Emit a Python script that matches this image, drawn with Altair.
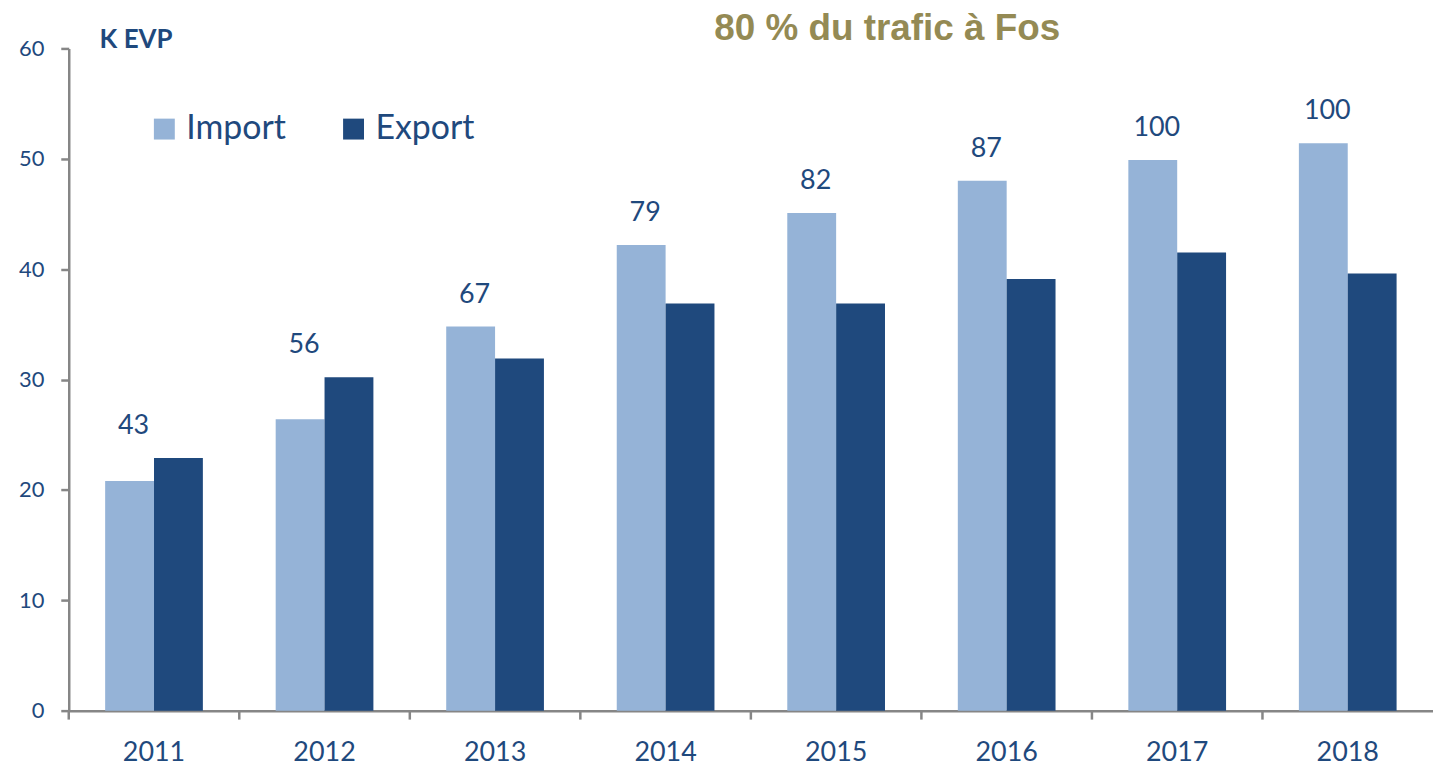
import altair as alt
import pandas as pd

years = ["2011", "2012", "2013", "2014", "2015", "2016", "2017", "2018"]
import_vals = [20.8, 26.4, 34.8, 42.2, 45.1, 48.0, 49.9, 51.4]
export_vals = [22.9, 30.2, 31.9, 36.9, 36.9, 39.1, 41.5, 39.6]
totals = [43, 56, 67, 79, 82, 87, 100, 100]
series = ["Import", "Export"]
colors = ["#95b3d7", "#1f497d"]
title_text = "80 % du trafic à Fos"
unit_text = "K EVP"

TXT = "#1f497d"
AX = "#868686"
W, H = 1370, 665
PIN = 0.427

rows = []
for y, i, e in zip(years, import_vals, export_vals):
    rows.append({"year": y, "series": "Import", "value": i})
    rows.append({"year": y, "series": "Export", "value": e})
bars_df = pd.DataFrame(rows)

lab_df = pd.DataFrame({
    "year": years,
    "series": ["Import"] * len(years),
    "total": totals,
    "top": [max(i, e) for i, e in zip(import_vals, export_vals)],
})

xscale = alt.Scale(paddingInner=PIN, paddingOuter=PIN / 2)
offscale = alt.Scale(domain=series, paddingInner=0, paddingOuter=0)

bars = alt.Chart(bars_df).mark_bar().encode(
    x=alt.X("year:N", scale=xscale, sort=years,
            axis=alt.Axis(title=None, labelFont="Lato", labelFontSize=27, labelColor=TXT,
                          ticks=False, domainColor=AX, domainWidth=2.5, labelPadding=29,
                          labelAngle=0)),
    xOffset=alt.XOffset("series:N", scale=offscale, sort=series),
    y=alt.Y("value:Q", scale=alt.Scale(domain=[0, 60], nice=False),
            axis=alt.Axis(title=None, values=[0, 10, 20, 30, 40, 50, 60], grid=False,
                          labelFont="Lato", labelFontSize=22, labelColor=TXT,
                          tickColor=AX, tickSize=8, tickWidth=2.5, domainColor=AX,
                          domainWidth=2.5, labelPadding=17)),
    color=alt.Color("series:N", scale=alt.Scale(domain=series, range=colors), sort=series,
                    legend=alt.Legend(title=None, orient="none", legendX=79, legendY=64,
                                      direction="horizontal", symbolType="square",
                                      symbolSize=441, symbolStrokeWidth=0,
                                      labelFont="Lato", labelFontSize=34, labelColor=TXT,
                                      labelOffset=5, columnPadding=50,
                                      symbolOpacity=1)),
)

labels = alt.Chart(lab_df).mark_text(font="Lato", fontSize=27, color=TXT,
                                     baseline="middle", dy=-32, dx=4).encode(
    x=alt.X("year:N", sort=years),
    xOffset=alt.XOffset("series:N", sort=series),
    y=alt.Y("top:Q"),
    text=alt.Text("total:Q"),
)

title = alt.Chart(pd.DataFrame({"t": [title_text]})).mark_text(
    font="Liberation Sans", fontWeight="bold", fontSize=37, color="#948a54",
    baseline="middle", align="center").encode(
    x=alt.value(822), y=alt.value(-19), text="t:N")

unit = alt.Chart(pd.DataFrame({"t": [unit_text]})).mark_text(
    font="Lato", fontWeight="bold", fontSize=26, color=TXT,
    baseline="alphabetic", align="left").encode(
    x=alt.value(31), y=alt.value(0), text="t:N")

main = alt.layer(bars, labels, title, unit)

ticks_df = pd.DataFrame({"tyear": years})
xticks = alt.Chart(ticks_df).mark_rule(color=AX, strokeWidth=2.5).encode(
    x=alt.X("tyear:N", sort=years, bandPosition=0,
            scale=alt.Scale(paddingInner=0, paddingOuter=0), axis=None),
    y=alt.value(H),
    y2=alt.value(H + 9),
)

chart = alt.layer(main, xticks).resolve_scale(x="independent").properties(
    width=W, height=H,
    autosize=alt.AutoSizeParams(type="none"),
    padding={"left": 61, "top": 39, "right": 0, "bottom": 55},
).configure_view(stroke=None)

chart.save("out.html", embed_options={"renderer": "svg", "actions": False})
